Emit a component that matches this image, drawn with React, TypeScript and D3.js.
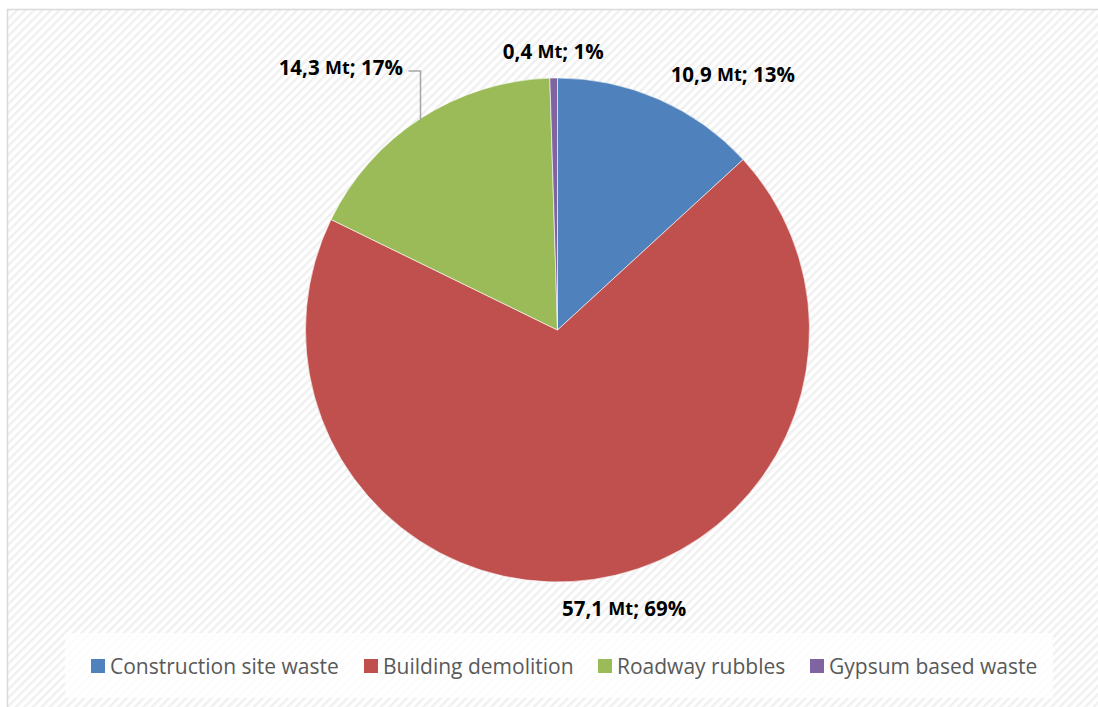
import React, { useEffect } from "react";
import * as d3 from "d3";

const categories = ["Construction site waste", "Building demolition", "Roadway rubbles", "Gypsum based waste"];
const values = [10.9, 57.1, 14.3, 0.4];
const labels = ["10,9", "57,1", "14,3", "0,4"];
const percents = ["13%", "69%", "17%", "1%"];
const colors = ["#4F81BD", "#C0504D", "#9BBB59", "#8064A2"];

const W = 1098;
const H = 707;
const cx = 557.5;
const cy = 330;
const R = 252;

// label polar placement: [angle offset in degrees from slice mid, radius]
const labelPolar = [
  { dAng: 10.7, rad: 310 },
  { dAng: -5.2, rad: 286 },
  { dAng: -6.6, rad: 341 },
  { dAng: 0, rad: 279 },
];

export default function App() {
  useEffect(() => {
    document.body.style.margin = "0";
  }, []);

  const pie = d3.pie<number>().value((d) => d).sort(null);
  const arcs = pie(values);
  const arc = d3.arc<d3.PieArcDatum<number>>().innerRadius(0).outerRadius(R);

  const font = "'Open Sans', sans-serif";

  const legendX = [91, 364, 598, 810];

  return (
    <svg width={W} height={H} style={{ display: "block" }}>
      <defs>
        <pattern id="hatch" width="6" height="6" patternUnits="userSpaceOnUse" patternTransform="rotate(45)">
          <rect width="6" height="6" fill="#ffffff" />
          <rect x="0" y="0" width="2.5" height="6" fill="#f0f0f0" />
        </pattern>
      </defs>
      <rect x={0} y={0} width={W} height={H} fill="#ffffff" />
      <rect x={7.5} y={9.5} width={W + 10} height={H + 10} fill="url(#hatch)" stroke="#d9d9d9" strokeWidth={1.5} />
      <g transform={`translate(${cx},${cy})`}>
        {arcs.map((a, i) => (
          <path key={i} d={arc(a) || ""} fill={colors[i]} stroke="#ffffff" strokeWidth={0.6} />
        ))}
      </g>
      {(() => {
        const lx = cx - 137;
        const ang = Math.asin((lx - cx) / R);
        const ey = cy - R * Math.cos(ang) + 1;
        return (
          <path d={`M${lx - 12},71 L${lx},71 L${lx},${ey}`} fill="none" stroke="#a6a6a6" strokeWidth={1.5} />
        );
      })()}
      {arcs.map((a, i) => {
        const mid = (a.startAngle + a.endAngle) / 2 + (labelPolar[i].dAng * Math.PI) / 180;
        const x = cx + labelPolar[i].rad * Math.sin(mid);
        const y = cy - labelPolar[i].rad * Math.cos(mid);
        return (
          <text key={i} x={x} y={y} textAnchor="middle" dominantBaseline="central" fontFamily={font} fontWeight="bold" fontSize={20.5} fill="#000000">
            {labels[i]} <tspan fontSize={18}>Mt</tspan>; {percents[i]}
          </text>
        );
      })}
      <rect x={65} y={633} width={988} height={65} fill="#ffffff" fillOpacity={0.8} />
      {categories.map((c, i) => (
        <g key={c}>
          <rect x={legendX[i]} y={659} width={14} height={14} fill={colors[i]} />
          <text x={legendX[i] + 19} y={665.5} dominantBaseline="central" fontFamily={font} fontSize={21} fill="#595959">
            {c}
          </text>
        </g>
      ))}
    </svg>
  );
}
